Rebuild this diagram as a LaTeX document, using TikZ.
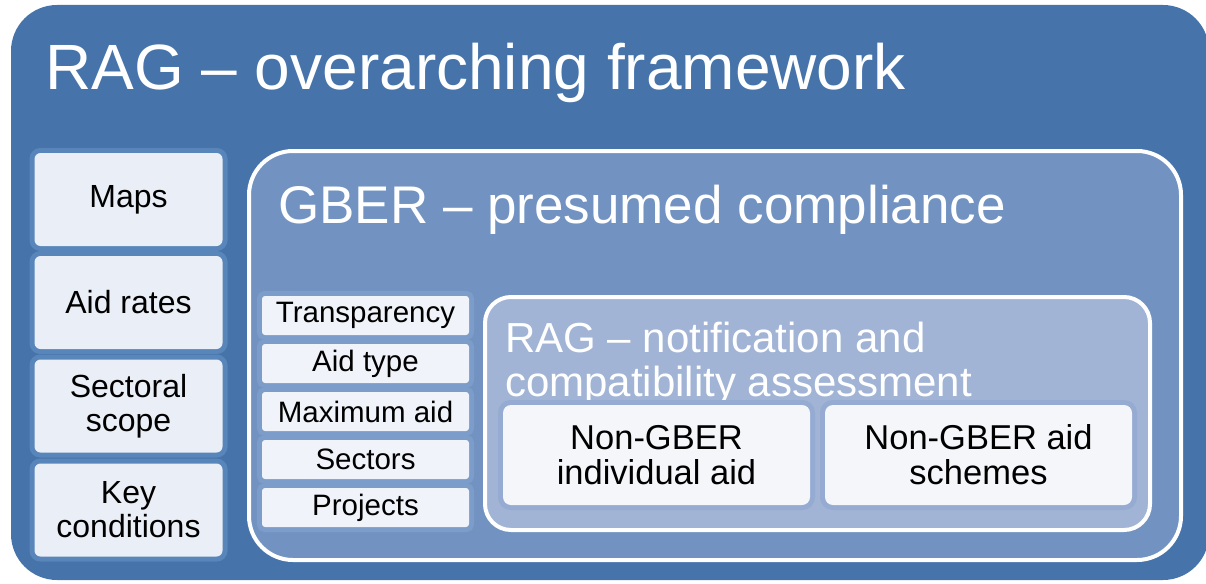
\documentclass[tikz,border=0pt]{standalone}
\usepackage{fontspec}
\setmainfont{Liberation Sans}
\usetikzlibrary{positioning}

\definecolor{ragblue}{RGB}{70,116,170}
\definecolor{gberblue}{RGB}{114,147,194}
\definecolor{notifblue}{RGB}{161,180,213}
\definecolor{leftfill}{RGB}{234,238,246}
\definecolor{smallfill}{RGB}{240,243,249}
\definecolor{innerfill}{RGB}{244,246,250}
\definecolor{lefthalo}{RGB}{88,133,186}
\definecolor{smallhalo}{RGB}{124,156,201}
\definecolor{innerhalo}{RGB}{150,171,210}

\tikzset{
  frame/.style={rounded corners=#1, inner sep=0pt, line width=4pt},
  titletext/.style={anchor=base west, text=white, inner sep=0pt, align=left},
  halo/.style={preaction={draw=#1, line width=10pt}},
  leftbox/.style={fill=leftfill, halo=lefthalo, rounded corners=6pt,
    minimum width=188pt, minimum height=93pt, align=center, inner sep=0pt,
    font=\fontsize{32}{34}\selectfont},
  smallbox/.style={fill=smallfill, halo=smallhalo, rounded corners=3pt,
    minimum width=207pt, minimum height=39pt, inner sep=0pt,
    font=\fontsize{29.5}{32}\selectfont},
  innerbox/.style={fill=innerfill, halo=innerhalo, rounded corners=8pt,
    minimum width=307pt, minimum height=100pt, align=center, inner sep=0pt,
    font=\fontsize{34.5}{35}\selectfont}
}

\begin{document}
\begin{tikzpicture}[x=1pt,y=-1pt]
\useasboundingbox (0,0) rectangle (1206,583);

% outer framework
\node[frame=46pt, fill=ragblue, minimum width=1198pt, minimum height=575pt]
  (rag) at (610,292.5) {};
\node[titletext, font=\fontsize{64}{70}\selectfont] (ragtitle) at (45,90)
  {RAG -- overarching framework};

% left column
\def\lx{128.5}
\node[leftbox] (maps) at (\lx,199.5) {Maps};
\node[leftbox] (rates) at (\lx,302.5) {Aid rates};
\node[leftbox] (scope) at (\lx,406) {Sectoral\\scope};
\node[leftbox] (cond) at (\lx,510) {Key\\conditions};

% GBER
\node[frame=44pt, draw=white, fill=gberblue, minimum width=932pt, minimum height=409pt]
  (gber) at (715,355.5) {};
\node[titletext, font=\fontsize{53}{60}\selectfont] (gbertitle) at (278,223)
  {GBER -- presumed compliance};

\def\sx{365.5}
\node[smallbox] (transp) at (\sx,315.5) {Transparency};
\node[smallbox] (aidtype) at (\sx,363.5) {Aid type};
\node[smallbox] (maxaid) at (\sx,411.5) {Maximum aid};
\node[smallbox] (sectors) at (\sx,459.5) {Sectors};
\node[smallbox] (projects) at (\sx,507.5) {Projects};

% RAG notification
\node[frame=26pt, draw=white, fill=notifblue, minimum width=665pt, minimum height=233pt]
  (notif) at (817.5,413.5) {};
\node[titletext, font=\fontsize{42}{44}\selectfont] (notiftitle) at (505,396)
  {RAG -- notification and\\compatibility assessment};

\node[innerbox] (indiv) at (656.5,455) {Non-GBER\\individual aid};
\node[innerbox] (schemes) at (978.5,455) {Non-GBER aid\\schemes};
\end{tikzpicture}
\end{document}
